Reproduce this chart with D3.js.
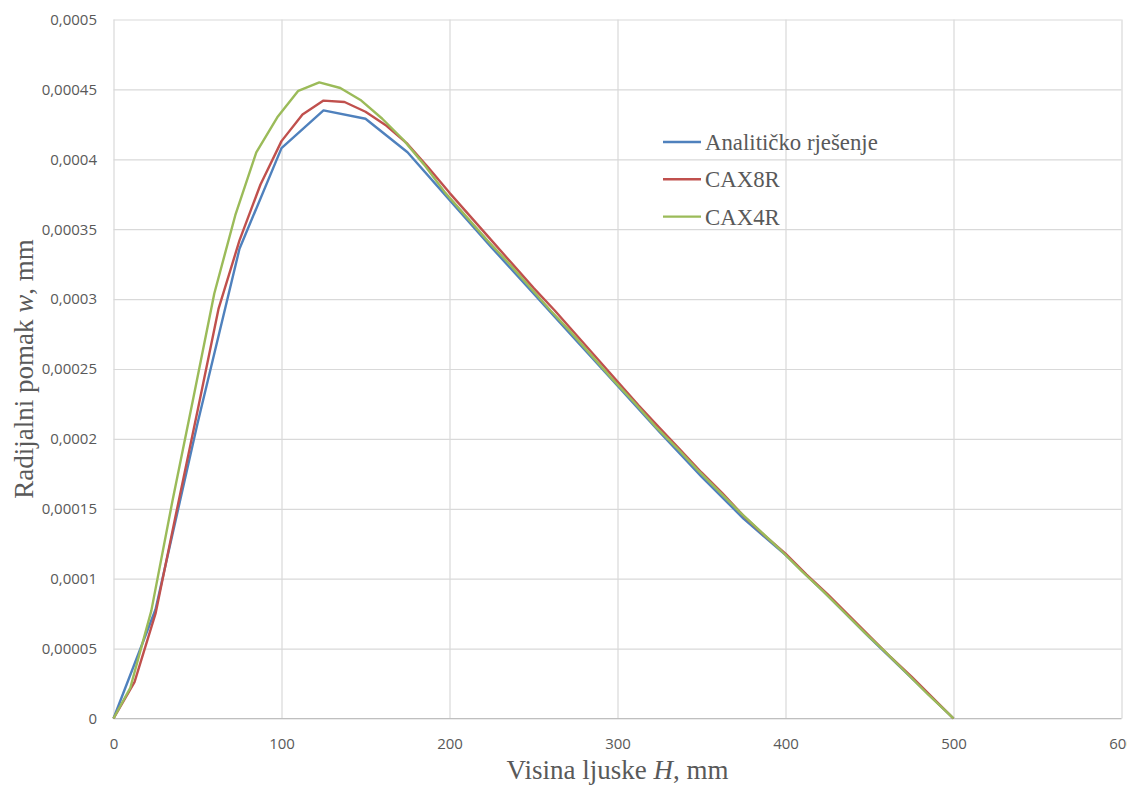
<!DOCTYPE html>
<html>
<head>
<meta charset="utf-8">
<script src="https://cdn.jsdelivr.net/npm/d3@7"></script>
<style>
  body { margin: 0; background: #fff; }
  .tick-label { font-family: "Open Sans", sans-serif; font-size: 15px; fill: #595959; }
  .title { font-family: "Liberation Serif", "Times New Roman", serif; fill: #595959; }
</style>
</head>
<body>
<svg></svg>
<script>
// tick values and labels
const xTicks = [0, 100, 200, 300, 400, 500, 600];
const xTickLabels = ["0", "100", "200", "300", "400", "500", "600"];
const yTicks = [0, 0.00005, 0.0001, 0.00015, 0.0002, 0.00025, 0.0003, 0.00035, 0.0004, 0.00045, 0.0005];
const yTickLabels = ["0", "0,00005", "0,0001", "0,00015", "0,0002", "0,00025", "0,0003", "0,00035", "0,0004", "0,00045", "0,0005"];

const seriesNames = ["Analitičko rješenje", "CAX8R", "CAX4R"];

// Analitičko rješenje
const hAnalytic = [0, 25, 50, 75, 100, 125, 150, 175, 200, 225, 250, 275, 300, 325, 350, 375, 400, 425, 450, 475, 500];
const wAnalytic = [0, 0.000078, 0.000211, 0.000336, 0.000408, 0.000435, 0.000429, 0.000405, 0.000371, 0.000337,
                   0.000304, 0.000271, 0.000238, 0.000205, 0.000173, 0.000143, 0.000117, 0.000088, 0.000058, 0.000029, 0];

// CAX8R
const hCax8r = [0, 12.5, 25, 37.5, 50, 62.5, 75, 87.5, 100, 112.5, 125, 137.5, 150, 162.5, 175, 187.5, 200,
                212.5, 225, 237.5, 250, 262.5, 275, 287.5, 300, 312.5, 325, 337.5, 350, 362.5, 375, 387.5, 400,
                412.5, 425, 437.5, 450, 462.5, 475, 487.5, 500];
const wCax8r = [0, 0.000026, 0.000075, 0.000148, 0.00022, 0.000293, 0.000342, 0.000382, 0.000413, 0.000432,
                0.000442, 0.000441, 0.000434, 0.000424, 0.000411, 0.000394, 0.000376, 0.000359, 0.000342, 0.000325,
                0.000308, 0.000292, 0.000275, 0.000258, 0.000241, 0.000224, 0.000208, 0.000192, 0.000176, 0.000161,
                0.000145, 0.000131, 0.000118, 0.000103, 0.000089, 0.000074, 0.000059, 0.000044, 0.00003, 0.000015, 0];

// CAX4R
const hCax4r = [0, 10, 22.5, 35, 47.5, 60, 72.5, 85, 97.5, 110, 122.5, 135, 147.5, 160, 172.5, 185, 197.5, 210,
                222.5, 235, 247.5, 260, 272.5, 285, 297.5, 310, 322.5, 335, 347.5, 360, 372.5, 385, 397.5, 410,
                422.5, 435, 447.5, 460, 472.5, 485, 497.5, 500];
const wCax4r = [0, 0.000022, 0.000077, 0.000155, 0.000229, 0.000304, 0.00036, 0.000405, 0.00043, 0.000449,
                0.000455, 0.000451, 0.000442, 0.000429, 0.000414, 0.000396, 0.000376, 0.000359, 0.000342, 0.000326,
                0.000309, 0.000292, 0.000276, 0.000259, 0.000242, 0.000226, 0.000209, 0.000194, 0.000178, 0.000163,
                0.000148, 0.000134, 0.00012, 0.000105, 0.000091, 0.000076, 0.000061, 0.000047, 0.000032, 0.000017,
                0.000003, 0];

const width = 1127;
const height = 785;
const colors = ["#4F81BD", "#C0504D", "#9BBB59"];

const svg = d3.select("svg")
              .attr("width", width)
              .attr("height", height);

const margin = {top: 19.5, right: 5.5, bottom: 66.5, left: 113.5};
const viewWidth = width - margin.left - margin.right;
const viewHeight = height - margin.top - margin.bottom;

const x = d3.scaleLinear().domain([0, 600]).range([0, viewWidth]);
const y = d3.scaleLinear().domain([0, 0.0005]).range([viewHeight, 0]);

const G = svg.append("g")
             .attr("transform", "translate(" + margin.left + "," + margin.top + ")");

// gridlines
G.append("g")
 .attr("class", "x-grid")
 .attr("transform", "translate(0," + viewHeight + ")")
 .call(d3.axisBottom(x).tickValues(xTicks).tickSize(-viewHeight).tickFormat(""))
 .call(g => g.select(".domain").remove())
 .call(g => g.selectAll("line").attr("stroke", "#d9d9d9").attr("stroke-width", 1.2));

G.append("g")
 .attr("class", "y-grid")
 .call(d3.axisLeft(y).tickValues(yTicks).tickSize(-viewWidth).tickFormat(""))
 .call(g => g.select(".domain").remove())
 .call(g => g.selectAll("line").attr("stroke", "#d9d9d9").attr("stroke-width", 1.2));

// bottom axis line
G.append("line")
 .attr("x1", 0).attr("x2", viewWidth)
 .attr("y1", viewHeight).attr("y2", viewHeight)
 .attr("stroke", "#bfbfbf")
 .attr("stroke-width", 1.2);

// tick labels
G.append("g")
 .attr("id", "x-axis")
 .attr("transform", "translate(0," + viewHeight + ")")
 .call(d3.axisBottom(x).tickValues(xTicks).tickSize(0).tickPadding(0)
         .tickFormat((d, i) => xTickLabels[i]))
 .call(g => g.select(".domain").remove())
 .call(g => g.selectAll("text")
             .attr("class", "tick-label")
             .attr("y", 30)
             .attr("dy", 0)
             .attr("fill", null));

G.append("g")
 .attr("id", "y-axis")
 .call(d3.axisLeft(y).tickValues(yTicks).tickSize(0).tickPadding(16.5)
         .tickFormat((d, i) => yTickLabels[i]))
 .call(g => g.select(".domain").remove())
 .call(g => g.selectAll("text")
             .attr("class", "tick-label")
             .attr("fill", null));

// series
const series = [
  {name: seriesNames[0], h: hAnalytic, w: wAnalytic},
  {name: seriesNames[1], h: hCax8r, w: wCax8r},
  {name: seriesNames[2], h: hCax4r, w: wCax4r}
];

const line = d3.line()
               .x(d => x(d[0]))
               .y(d => y(d[1]));

G.append("g")
 .selectAll("path")
 .data(series)
 .enter()
 .append("path")
 .attr("d", s => line(d3.zip(s.h, s.w)))
 .attr("fill", "none")
 .attr("stroke", (s, i) => colors[i])
 .attr("stroke-width", 2.4)
 .attr("stroke-linejoin", "round");

// legend
const legend = svg.append("g")
                  .attr("transform", "translate(663,142)");

const items = legend.selectAll("g")
                    .data(seriesNames)
                    .enter()
                    .append("g")
                    .attr("transform", (d, i) => "translate(0," + i * 37.3 + ")");

items.append("line")
     .attr("x1", 0).attr("x2", 38)
     .attr("y1", 0).attr("y2", 0)
     .attr("stroke", (d, i) => colors[i])
     .attr("stroke-width", 2.4);

items.append("text")
     .attr("class", "title")
     .attr("x", 42)
     .attr("y", 8)
     .style("font-size", "22.8px")
     .text(d => d);

// axis titles
const xTitle = svg.append("text")
                  .attr("class", "title")
                  .attr("text-anchor", "middle")
                  .attr("x", margin.left + viewWidth / 2)
                  .attr("y", 779)
                  .style("font-size", "27px");
xTitle.append("tspan").text("Visina ljuske ");
xTitle.append("tspan").style("font-style", "italic").text("H");
xTitle.append("tspan").text(", mm");

const yTitle = svg.append("text")
                  .attr("class", "title")
                  .attr("text-anchor", "middle")
                  .attr("transform", "translate(33," + (margin.top + viewHeight / 2) + ") rotate(-90)")
                  .style("font-size", "27px");
yTitle.append("tspan").text("Radijalni pomak ");
yTitle.append("tspan").style("font-style", "italic").text("w");
yTitle.append("tspan").text(", mm");
</script>
</body>
</html>
